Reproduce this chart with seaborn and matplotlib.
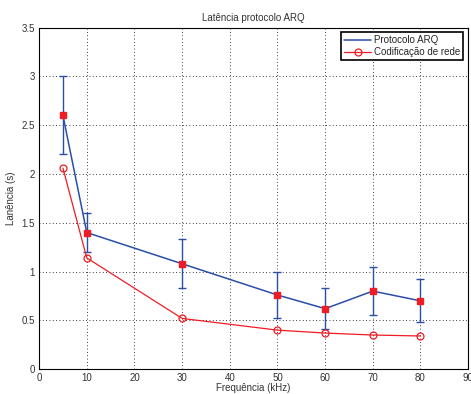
import numpy as np
import pandas as pd
import matplotlib
matplotlib.use("Agg")
import matplotlib.pyplot as plt
import seaborn as sns

freq = [5, 10, 30, 50, 60, 70, 80]
arq_latency = [2.60, 1.40, 1.08, 0.76, 0.62, 0.80, 0.70]
arq_err = [0.40, 0.20, 0.25, 0.24, 0.21, 0.25, 0.22]
rede_latency = [2.06, 1.14, 0.52, 0.40, 0.37, 0.35, 0.34]

blue = "#2a4ea6"
red = "#ee1c25"

sns.set_style("white")
plt.rcParams["font.family"] = ["Liberation Sans", "DejaVu Sans"]
plt.rcParams["font.size"] = 7

df = pd.DataFrame({"freq": freq, "arq": arq_latency, "rede": rede_latency})

fig = plt.figure(figsize=(4.71, 3.94), dpi=100)
ax = fig.add_axes([0.083, 0.063, 0.911, 0.867])

ax.errorbar(freq, arq_latency, yerr=arq_err, fmt="none", ecolor=blue,
            elinewidth=1.0, capsize=3, capthick=1.0, zorder=2)
sns.lineplot(data=df, x="freq", y="arq", ax=ax, color=blue, linewidth=1.1,
             label="Protocolo ARQ", zorder=3)
ax.plot(freq, arq_latency, linestyle="none", marker="s", markersize=4.5,
        color=red, zorder=4)
sns.lineplot(data=df, x="freq", y="rede", ax=ax, color=red, linewidth=0.9,
             marker="o", markersize=5, markerfacecolor="none",
             markeredgecolor=red, markeredgewidth=0.9,
             label="Codificação de rede", zorder=3)

ax.set_xlim(0, 90)
ax.set_ylim(0, 3.5)
ax.set_xticks(np.arange(0, 91, 10))
ax.set_yticks(np.arange(0, 3.51, 0.5))
ax.set_yticklabels(["0", "0.5", "1", "1.5", "2", "2.5", "3", "3.5"])
ax.grid(True, color="black", linestyle=(0, (1, 3)), linewidth=0.6)
ax.tick_params(direction="in", length=3, width=0.7, colors="#333333",
               labelsize=7, pad=3)
for s in ax.spines.values():
    s.set_color("black")
    s.set_linewidth(0.8)

ax.set_title("Latência protocolo ARQ", fontsize=7, color="#333333", pad=5)
ax.set_xlabel("Frequência (kHz)", fontsize=7, color="#333333", labelpad=0)
ax.set_ylabel("Lanência (s)", fontsize=7, color="#333333", labelpad=4)

leg = ax.legend(loc="upper right", fontsize=7, fancybox=False, framealpha=1,
                edgecolor="black", borderpad=0.3, labelspacing=0.2,
                handlelength=2.8, handletextpad=0.3, borderaxespad=0.5)
leg.get_frame().set_linewidth(1.2)

fig.savefig("out.png", dpi=100)
